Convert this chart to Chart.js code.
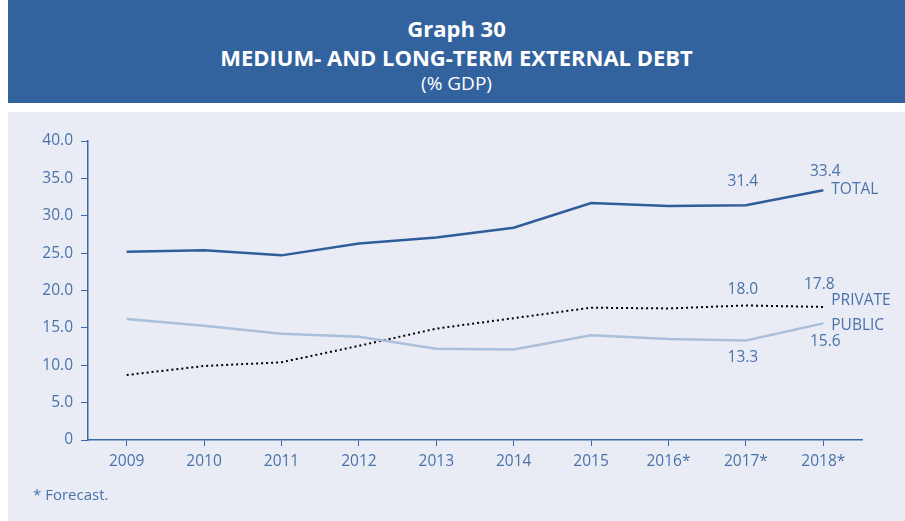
<!DOCTYPE html>
<html>
<head>
<meta charset="utf-8">
<script src="https://cdn.jsdelivr.net/npm/chart.js@4.4.0/dist/chart.umd.min.js"></script>
<style>
    body { margin: 0; background: #fff; width: 905px; height: 521px; position: relative; overflow: hidden; font-family: "Open Sans", sans-serif; }
    #header { position: absolute; left: 8px; top: 0; width: 897px; height: 103px; background: #33639e; color: #fff; text-align: center; }
    #header .t1 { position: absolute; top: 13px; width: 100%; font-weight: bold; font-size: 22px; }
    #header .t2 { position: absolute; top: 42px; width: 100%; font-weight: bold; font-size: 22px; }
    #header .t3 { position: absolute; top: 70px; width: 100%; font-size: 19px; }
    #panel { position: absolute; left: 8px; top: 112px; width: 897px; height: 409px; background: #e9ecf4; }
    #note { position: absolute; left: 33px; top: 484px; font-size: 15px; color: #4a72aa; }
</style>
</head>
<body>
<div id="header">
    <div class="t1">Graph 30</div>
    <div class="t2">MEDIUM- AND LONG-TERM EXTERNAL DEBT</div>
    <div class="t3">(% GDP)</div>
</div>
<div id="panel"><canvas id="chart01" width="897" height="409"></canvas></div>
<div id="note">* Forecast.</div>
<script>
const years = ['2009', '2010', '2011', '2012', '2013', '2014', '2015', '2016*', '2017*', '2018*'];
const total = [25.2, 25.4, 24.7, 26.3, 27.1, 28.4, 31.7, 31.3, 31.4, 33.4];
const privat = [8.7, 9.9, 10.4, 12.6, 14.9, 16.3, 17.7, 17.6, 18.0, 17.8];
const pub = [16.2, 15.3, 14.2, 13.8, 12.2, 12.1, 14.0, 13.5, 13.3, 15.6];
const yTicks = [0, 5, 10, 15, 20, 25, 30, 35, 40];

const axisColor = '#3c68a6';
const textColor = '#4a72aa';
const ctx01 = document.getElementById('chart01');

//valores escritos junto das linhas (indice, dx, dy, alinhamento)
const endLabels = [
    { data: total, i: 8, dx: -3, dy: -24, text: total[8].toFixed(1), align: 'center' },
    { data: total, i: 9, dx: 2, dy: -19, text: total[9].toFixed(1), align: 'center' },
    { data: total, i: 9, dx: 8, dy: -1, text: 'TOTAL', align: 'left' },
    { data: privat, i: 8, dx: -3, dy: -16, text: privat[8].toFixed(1), align: 'center' },
    { data: privat, i: 9, dx: -4, dy: -22, text: privat[9].toFixed(1), align: 'center' },
    { data: privat, i: 9, dx: 8, dy: -6, text: 'PRIVATE', align: 'left' },
    { data: pub, i: 9, dx: 8, dy: 2, text: 'PUBLIC', align: 'left' },
    { data: pub, i: 9, dx: 2, dy: 18, text: pub[9].toFixed(1), align: 'center' },
    { data: pub, i: 8, dx: -3, dy: 17, text: pub[8].toFixed(1), align: 'center' }
];

const labelPlugin = {
    id: 'labelPlugin',
    afterDatasetsDraw(chart) {
        const c = chart.ctx;
        const x = chart.scales.x;
        const y = chart.scales.y;
        c.save();
        c.font = '15.5px "Open Sans"';
        c.fillStyle = textColor;
        c.textBaseline = 'middle';
        endLabels.forEach(l => {
            c.textAlign = l.align;
            c.fillText(l.text, x.getPixelForValue(l.i) + l.dx, y.getPixelForValue(l.data[l.i]) + l.dy);
        });
        c.restore();
    }
};

const chart = new Chart(ctx01, {
    type: 'line',
    data: {
        labels: years,
        datasets: [{
            label: 'TOTAL',
            data: total,
            borderColor: '#2f5d9a',
            borderWidth: 2.5,
            pointRadius: 0
        }, {
            label: 'PUBLIC',
            data: pub,
            borderColor: '#a9bfda',
            borderWidth: 2.5,
            pointRadius: 0
        }, {
            label: 'PRIVATE',
            data: privat,
            borderColor: '#000',
            borderWidth: 2,
            borderDash: [2, 3],
            pointRadius: 0
        }]
    },
    options: {
        responsive: false,
        animation: false,
        layout: { padding: { left: 0, top: 29, right: 43, bottom: 0 } },
        plugins: { legend: { display: false }, tooltip: { enabled: false } },
        scales: {
            x: {
                offset: true,
                afterFit: (s) => { s.height = 81; },
                grid: { drawOnChartArea: false, tickLength: 6, color: axisColor, offset: false },
                border: { color: axisColor, width: 1.5 },
                ticks: { color: textColor, font: { size: 15.5, family: 'Open Sans' }, padding: 6, maxRotation: 0 }
            },
            y: {
                min: 0,
                max: 40,
                afterFit: (s) => { s.width = 80; },
                afterBuildTicks: (s) => { s.ticks = yTicks.map(v => ({ value: v })); },
                grid: { drawOnChartArea: false, tickLength: 7, color: axisColor },
                border: { color: axisColor, width: 1.5 },
                ticks: {
                    color: textColor,
                    font: { size: 15.5, family: 'Open Sans' },
                    padding: 8,
                    callback: (v) => v === 0 ? '0' : v.toFixed(1)
                }
            }
        }
    },
    plugins: [labelPlugin]
});
</script>
</body>
</html>
